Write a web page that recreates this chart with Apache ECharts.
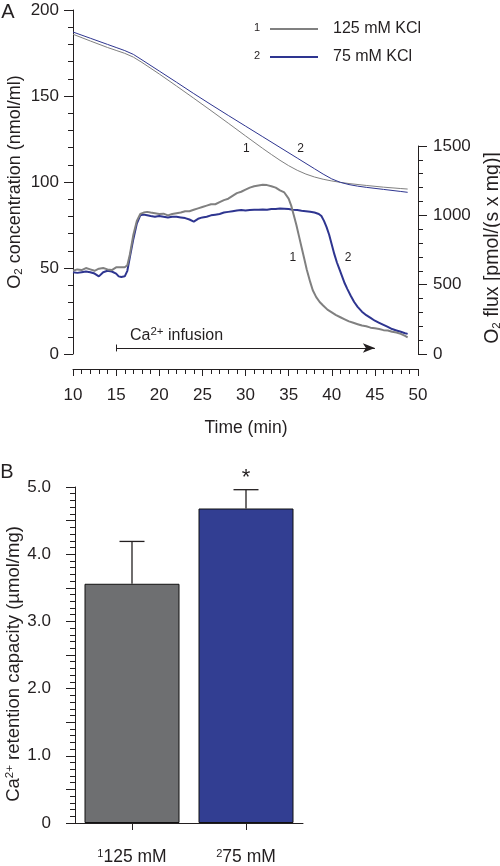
<!DOCTYPE html>
<html><head><meta charset="utf-8">
<script src="https://cdn.jsdelivr.net/npm/echarts@6/dist/echarts.min.js"></script>
<style>html,body{margin:0;padding:0;background:#fff}#c{width:500px;height:866px}</style>
</head><body><div id="c"></div>
<script>
// ---------- Panel A data ----------
const o2Time1 = [10,12,14,15,16,17,18,20,22,24,26,28,30,32,33,34,35,36,37,38,39,40,41,42,44,46,48,48.8];
const o2Val1  = [185.9,182,178.2,176.5,174.8,172.6,169.5,162.8,155.8,148.7,141.5,134.2,126.8,119.5,116,112.6,109.5,106.8,104.6,102.9,101.6,100.6,99.8,99.1,98,97,96.2,95.9];
const o2Time2 = [10,12,14,15,16,17,18,20,22,24,26,28,30,32,34,36,38,39,40,41,42,43,44,46,48,48.8];
const o2Val2  = [187.2,183.6,180,178.2,176.4,174.2,171,164.5,158,151.4,145,138.7,132.5,126.3,120.1,113.9,107.7,104.6,101.8,99.8,98.5,97.6,96.9,95.7,94.5,94.0];

const fluxTime1 = [10,10.5,11,11.5,12,12.5,13,13.5,14,14.5,15,15.5,16,16.3,16.6,17,17.4,17.8,18.2,18.6,19,19.5,20,20.5,21,21.5,22,22.5,23,23.5,24,24.5,25,25.5,26,26.5,27,27.5,28,28.5,29,29.5,30,30.5,31,31.5,32,32.5,33,33.5,34,34.5,35,35.3,35.6,35.9,36.2,36.5,36.8,37.1,37.5,37.8,38.2,38.6,39,39.5,40,40.5,41,41.5,42,42.5,43,43.5,44,44.5,45,45.5,46,46.5,47,47.5,48,48.5,48.8];
const fluxVal1  = [600,610,605,620,610,600,615,620,610,605,625,625,625,640,720,860,960,1010,1020,1025,1020,1015,1010,1012,1000,1010,1015,1020,1030,1030,1040,1050,1060,1070,1080,1080,1095,1110,1120,1140,1160,1170,1185,1200,1210,1215,1220,1218,1210,1200,1180,1165,1120,1070,1000,930,850,770,690,610,520,460,410,375,350,320,300,280,265,250,235,225,215,205,200,190,185,180,172,170,160,155,145,130,120];
const fluxTime2 = [10,10.5,11,11.5,12,12.5,13,13.5,14,14.5,15,15.3,15.6,16,16.3,16.6,17,17.4,17.8,18.2,18.6,19,19.5,20,20.5,21,21.5,22,22.5,23,23.5,24,24.5,25,25.5,26,26.5,27,27.5,28,28.5,29,29.5,30,30.5,31,31.5,32,32.5,33,33.5,34,34.5,35,35.5,36,36.5,37,37.5,38,38.5,38.8,39.1,39.4,39.7,40,40.3,40.6,40.9,41.2,41.5,41.8,42.2,42.6,43,43.5,44,44.5,45,45.5,46,46.5,47,47.5,48,48.5,48.8];
const fluxVal2  = [590,585,590,595,590,580,560,590,600,595,580,560,555,560,600,700,830,940,1000,1005,1000,995,990,995,990,985,990,990,985,980,970,955,975,985,990,1000,1005,1010,1020,1025,1030,1035,1038,1035,1038,1040,1040,1042,1040,1045,1045,1050,1048,1045,1040,1038,1033,1030,1026,1020,1010,995,960,915,860,790,720,660,610,560,510,470,420,375,340,305,280,260,240,225,210,195,180,170,160,150,145];

const seriesNames = ['125 mM KCl','75 mM KCl'];
const legendNums = ['1','2'];
const infusionStart = 15, infusionEnd = 45, infusionLevel = 3.5;
const curveLabelText = ['1','2','1','2'];
const curveLabelTime = [30.1,36.4,35.5,41.9];
const curveLabelValue = [119.6,119.6,692,692];
const curveLabelAxis = [0,0,1,1];

// ---------- Panel B data ----------
const barCategories = ['125 mM','75 mM'];
const barIndex = ['1','2'];
const barValues = [3.56, 4.68];
const barErrors = [0.63, 0.28];
const barSig = ['', '*'];

// ---------- styles ----------
const FONT = "'Liberation Sans', Arial, Helvetica, sans-serif";
const INK = '#231f20';
const GRAY_LINE = '#808080', BLUE_LINE = '#2e3590';
const BAR_COLORS = ['#6e6f71', '#323e92'];
const TICK_FS = 17;

const pair = (ts, vs) => ts.map((t, i) => [t, vs[i]]);
const axLine = {show: true, onZero: false, lineStyle: {color: INK, width: 1}};
const lbl = (extra) => Object.assign({color: INK, fontSize: TICK_FS, fontFamily: FONT}, extra);
const supRich = {sup: {fontSize: 11, lineHeight: 10, verticalAlign: 'top', fontFamily: FONT, color: INK},
                 n: {fontSize: 17.5, fontFamily: FONT, color: INK}};

const chart = echarts.init(document.getElementById('c'), null, {renderer: 'canvas'});

const option = {
  animation: false,
  backgroundColor: '#fff',
  textStyle: {fontFamily: FONT, color: INK},
  grid: [
    {left: 73, top: 10, width: 345, height: 344, containLabel: false},
    {left: 73, top: 146, width: 345, height: 208, containLabel: false},
    {left: 75, top: 487, width: 228, height: 344, containLabel: false}
  ],
  legend: {
    data: seriesNames, orient: 'vertical', left: 264, top: 16,
    itemWidth: 48, itemHeight: 16, itemGap: 12, selectedMode: false,
    itemStyle: {opacity: 0},
    textStyle: {fontSize: 16, color: INK, fontFamily: FONT, padding: [0, 0, 0, 10]}
  },
  xAxis: [
    {gridIndex: 0, type: 'value', min: 10, max: 50, interval: 5, offset: 15,
     axisLine: axLine, axisTick: {show: true, length: 7, lineStyle: {color: INK}},
     minorTick: {show: true, splitNumber: 5, length: 5, lineStyle: {color: INK}},
     axisLabel: lbl({margin: 18}), splitLine: {show: false}, minorSplitLine: {show: false}},
    {gridIndex: 1, type: 'value', min: 10, max: 50, show: false, splitLine: {show: false}},
    {gridIndex: 2, type: 'category', data: barCategories,
     axisLine: axLine, axisTick: {show: true, alignWithLabel: true, length: 7, lineStyle: {color: INK}},
     axisLabel: lbl({margin: 25, interval: 0,
       formatter: (v, i) => '{sup|' + barIndex[i] + '}{n|' + v + '}', rich: supRich}),
     splitLine: {show: false}}
  ],
  yAxis: [
    {gridIndex: 0, type: 'value', min: 0, max: 200, interval: 50,
     axisLine: axLine, axisTick: {show: true, length: 9, lineStyle: {color: INK}},
     minorTick: {show: true, splitNumber: 5, length: 5, lineStyle: {color: INK}},
     axisLabel: lbl({margin: 14, formatter: v => String(v)}), splitLine: {show: false}, minorSplitLine: {show: false}},
    {gridIndex: 1, type: 'value', position: 'right', min: 0, max: 1500, interval: 500,
     axisLine: axLine, axisTick: {show: true, length: 9, lineStyle: {color: INK}},
     minorTick: {show: true, splitNumber: 5, length: 5, lineStyle: {color: INK}},
     axisLabel: lbl({margin: 15, formatter: v => String(v)}), splitLine: {show: false}, minorSplitLine: {show: false}},
    {gridIndex: 2, type: 'value', min: 0, max: 5, interval: 0.5,
     axisLine: axLine, axisTick: {show: true, length: 9, lineStyle: {color: INK}},
     minorTick: {show: true, splitNumber: 5, length: 5, lineStyle: {color: INK}},
     axisLabel: lbl({margin: 24, showMinLabel: true, showMaxLabel: true,
       formatter: v => {
         const r = Math.round(v);
         if (Math.abs(v - r) > 1e-6) return '';
         return r === 0 ? '0' : r.toFixed(1);
       }}),
     splitLine: {show: false}, minorSplitLine: {show: false}}
  ],
  series: [
    {type: 'line', name: seriesNames[0] + ' O2', xAxisIndex: 0, yAxisIndex: 0, symbol: 'none',
     lineStyle: {width: 1, color: GRAY_LINE}, itemStyle: {color: GRAY_LINE},
     data: pair(o2Time1, o2Val1), z: 3,
     markLine: {silent: true, animation: false, label: {show: false},
       lineStyle: {color: INK, width: 1, type: 'solid'},
       data: [
         [{coord: [infusionStart, infusionLevel], symbol: 'none'},
          {coord: [infusionEnd, infusionLevel], symbol: 'arrow', symbolSize: [7, 12]}],
         [{coord: [infusionStart, infusionLevel - 2], symbol: 'none'},
          {coord: [infusionStart, infusionLevel + 2], symbol: 'none'}]
       ]}},
    {type: 'line', name: seriesNames[1] + ' O2', xAxisIndex: 0, yAxisIndex: 0, symbol: 'none',
     lineStyle: {width: 1, color: BLUE_LINE}, itemStyle: {color: BLUE_LINE},
     data: pair(o2Time2, o2Val2), z: 3},
    {type: 'line', name: seriesNames[0], xAxisIndex: 1, yAxisIndex: 1, symbol: 'none',
     lineStyle: {width: 2, color: GRAY_LINE}, itemStyle: {color: GRAY_LINE},
     data: pair(fluxTime1, fluxVal1), z: 4},
    {type: 'line', name: seriesNames[1], xAxisIndex: 1, yAxisIndex: 1, symbol: 'none',
     lineStyle: {width: 2, color: BLUE_LINE}, itemStyle: {color: BLUE_LINE},
     data: pair(fluxTime2, fluxVal2), z: 3},
    {type: 'bar', xAxisIndex: 2, yAxisIndex: 2, barWidth: 95,
     itemStyle: {borderColor: '#111', borderWidth: 1},
     data: barValues.map((v, i) => ({value: v, itemStyle: {color: BAR_COLORS[i]}}))},
    {type: 'custom', xAxisIndex: 2, yAxisIndex: 2, z: 5,
     data: barValues.map((v, i) => [i, v, barErrors[i]]),
     renderItem: (params, api) => {
       const i = api.value(0), v = api.value(1), e = api.value(2);
       const base = api.coord([i, v]);
       const top = api.coord([i, v + e]);
       const hw = 12.5;
       const st = {stroke: INK, lineWidth: 1.3};
       const children = [
         {type: 'line', shape: {x1: base[0], y1: base[1], x2: top[0], y2: top[1]}, style: st},
         {type: 'line', shape: {x1: top[0] - hw, y1: top[1], x2: top[0] + hw, y2: top[1]}, style: st}
       ];
       if (barSig[params.dataIndex]) {
         children.push({type: 'text', x: top[0], y: top[1] - 1,
           style: {text: barSig[params.dataIndex], fontSize: 22, fontFamily: FONT, fill: INK,
                   align: 'center', verticalAlign: 'bottom'}});
       }
       return {type: 'group', children};
     }}
  ]
};
chart.setOption(option);

// annotation texts placed through the chart's own coordinate conversion
const toPx = (axis, t, v) => chart.convertToPixel({xAxisIndex: axis, yAxisIndex: axis}, [t, v]);
const txt = (x, y, text, size, extra) => ({type: 'text', x, y, silent: true,
  style: Object.assign({text, fontSize: size, fontFamily: FONT, fill: INK, align: 'center',
    verticalAlign: 'middle', rich: {
      sup: {fontSize: 11.5, lineHeight: 10, verticalAlign: 'top', fontFamily: FONT, fill: INK},
      sub: {fontSize: 11.5, lineHeight: 10, verticalAlign: 'bottom', fontFamily: FONT, fill: INK},
      n: {fontSize: size, lineHeight: 20, fontFamily: FONT, fill: INK}
    }}, extra || {})});

const graphics = [];
graphics.push(txt(8, 12, 'A', 20));
graphics.push(txt(7, 472, 'B', 20));
// legend numbers
graphics.push(txt(257, 28, legendNums[0], 11));
graphics.push(txt(257, 56, legendNums[1], 11));
// curve labels
curveLabelText.forEach((s, k) => {
  const p = toPx(curveLabelAxis[k], curveLabelTime[k], curveLabelValue[k]);
  graphics.push(txt(p[0], p[1], s, 12));
});
// infusion label
const ip = toPx(0, 16.6, 10.5);
graphics.push(txt(ip[0], ip[1], '{n|Ca}{sup|2+}{n| infusion}', 16, {align: 'left'}));
// axis titles
graphics.push(Object.assign(txt(15, 182, '{n|O}{sub|2}{n| concentration (nmol/ml)}', 18), {rotation: Math.PI / 2}));
graphics.push(Object.assign(txt(493, 248, '{n|O}{sub|2}{n| flux [pmol/(s x mg)]}', 19.5), {rotation: Math.PI / 2}));
graphics.push(txt(246, 428, 'Time (min)', 17.5));
graphics.push(Object.assign(txt(14, 664, '{n|Ca}{sup|2+}{n| retention capacity (µmol/mg)}', 18.5), {rotation: Math.PI / 2}));

chart.setOption({graphic: graphics});
</script></body></html>
